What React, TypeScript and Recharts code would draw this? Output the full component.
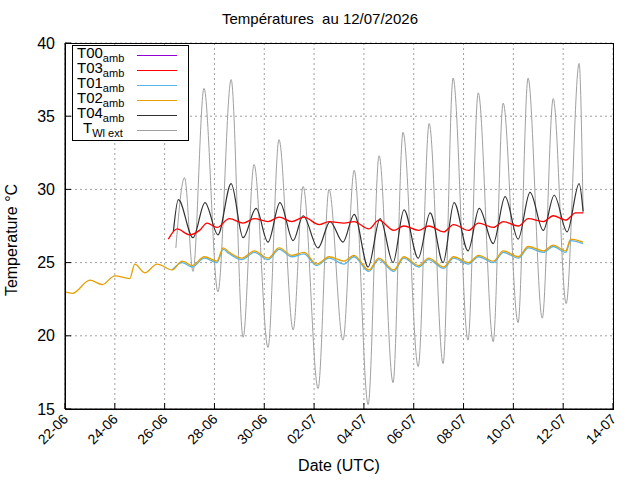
import { CartesianGrid, Line, LineChart, XAxis, YAxis } from "recharts";

// x = days since 22-06 00:00 UTC
const dayTicks = [0, 2, 4, 6, 8, 10, 12, 14, 16, 18, 20, 22];
const dayLabels = ["22-06", "24-06", "26-06", "28-06", "30-06", "02-07", "04-07", "06-07", "08-07", "10-07", "12-07", "14-07"];
const tempTicks = [15, 20, 25, 30, 35, 40];

const extT = [4.45, 4.8, 5.14, 5.58, 6.14, 6.67, 7.15, 7.59, 8.15, 8.59, 9.16, 9.56, 10.16, 10.6, 11.16, 11.61, 12.17, 12.61, 13.17, 13.57, 14.18, 14.62, 15.18, 15.58, 16.18, 16.59, 17.19, 17.59, 18.19, 18.59, 19.16, 19.6, 20.12, 20.64, 20.8];
const extV = [26.0, 30.8, 24.4, 36.9, 23.0, 37.5, 19.9, 31.7, 19.2, 33.4, 20.4, 30.2, 16.4, 30.0, 19.7, 31.3, 15.3, 32.3, 16.8, 33.9, 17.9, 34.5, 18.1, 37.6, 19.7, 36.6, 19.6, 35.9, 20.9, 37.6, 21.2, 36.2, 22.2, 38.6, 28.4];

const t04T = [4.35, 4.55, 5.14, 5.62, 6.14, 6.67, 7.15, 7.67, 8.15, 8.63, 9.16, 9.56, 10.16, 10.64, 11.16, 11.61, 12.17, 12.65, 13.17, 13.61, 14.18, 14.66, 15.18, 15.62, 16.18, 16.63, 17.19, 17.67, 18.19, 18.67, 19.2, 19.64, 20.16, 20.64, 20.8];
const t04V = [27.1, 29.3, 26.7, 29.1, 26.9, 30.4, 26.7, 28.7, 26.4, 29.1, 26.5, 28.2, 26.0, 27.8, 26.4, 28.3, 24.7, 28.0, 25.0, 28.6, 25.3, 28.4, 25.0, 29.1, 25.8, 28.7, 26.3, 29.5, 26.6, 29.8, 27.2, 29.6, 27.1, 30.4, 28.5];

const t03T = [4.15, 4.5, 5.0, 5.4, 5.7, 6.1, 6.6, 7.15, 7.6, 8.15, 8.6, 9.1, 9.6, 10.2, 10.6, 11.2, 11.6, 12.2, 12.6, 13.2, 13.6, 14.2, 14.6, 15.2, 15.6, 16.2, 16.6, 17.2, 17.6, 18.2, 18.6, 19.2, 19.6, 20.1, 20.5, 20.8];
const t03V = [26.6, 27.3, 26.9, 27.2, 27.7, 27.4, 28.0, 27.7, 28.0, 27.8, 28.1, 27.8, 28.1, 27.6, 27.8, 27.7, 27.8, 27.3, 27.9, 27.2, 27.5, 27.2, 27.5, 27.1, 27.6, 27.2, 27.7, 27.4, 27.8, 27.5, 28.0, 27.8, 28.2, 27.9, 28.4, 28.4];

const t02T = [0, 0.3, 1.0, 1.5, 2.0, 2.6, 2.8, 3.2, 3.7, 4.3, 4.7, 5.1, 5.6, 6.1, 6.35, 6.6, 7.1, 7.6, 8.15, 8.6, 9.1, 9.6, 10.1, 10.6, 11.2, 11.6, 12.2, 12.6, 13.2, 13.6, 14.2, 14.6, 15.2, 15.6, 16.2, 16.6, 17.2, 17.6, 18.2, 18.6, 19.2, 19.6, 20.1, 20.3, 20.8];
const t02V = [23.0, 22.9, 23.8, 23.5, 24.1, 23.9, 24.9, 24.3, 24.9, 24.5, 25.1, 24.8, 25.4, 25.1, 26.0, 25.7, 25.3, 25.8, 25.3, 26.0, 25.5, 25.7, 24.9, 25.4, 25.1, 25.5, 24.5, 25.3, 24.5, 25.4, 24.8, 25.3, 24.7, 25.4, 25.0, 25.5, 25.1, 25.8, 25.4, 26.1, 25.8, 26.2, 25.8, 26.6, 26.4];

const t01T = [4.3, 4.7, 5.1, 5.6, 6.1, 6.35, 6.6, 7.1, 7.6, 8.15, 8.6, 9.1, 9.6, 10.1, 10.6, 11.2, 11.6, 12.2, 12.6, 13.2, 13.6, 14.2, 14.6, 15.2, 15.6, 16.2, 16.6, 17.2, 17.6, 18.2, 18.6, 19.2, 19.6, 20.1, 20.3, 20.8];
const t01V = [24.5, 25.0, 24.7, 25.3, 25.0, 25.9, 25.6, 25.2, 25.7, 25.2, 25.9, 25.4, 25.6, 24.8, 25.3, 24.9, 25.4, 24.4, 25.2, 24.4, 25.3, 24.7, 25.2, 24.6, 25.3, 24.9, 25.4, 25.0, 25.7, 25.3, 26.0, 25.7, 26.1, 25.7, 26.5, 26.3];

const toPoints = (t: number[], v: number[]) => t.map((d, i) => ({ d, v: v[i] }));

const legend = [
  { name: "T00", sub: "amb", color: "#9400d3" },
  { name: "T03", sub: "amb", color: "#ff0000" },
  { name: "T01", sub: "amb", color: "#56b4e9" },
  { name: "T02", sub: "amb", color: "#e69f00" },
  { name: "T04", sub: "amb", color: "#303030" },
  { name: "T", sub: "Wl ext", color: "#a0a0a0" },
];

function DateTick({ x, payload }: any) {
  const i = dayTicks.indexOf(payload.value);
  const ax = x + 4;
  const ay = 420;
  return (
    <text x={ax} y={ay} textAnchor="end" transform={`rotate(-45 ${ax} ${ay})`} fontSize={14} fill="#000">
      {dayLabels[i]}
    </text>
  );
}

export default function App() {
  const font = "'Liberation Sans', Arial, sans-serif";
  return (
    <div style={{ position: "fixed", left: 0, top: 0, width: 640, height: 480, background: "#fff", fontFamily: font }}>
      <div style={{ position: "absolute", top: 10, width: 640, textAlign: "center", fontSize: 15 }}>
        Températures&nbsp;&nbsp;au 12/07/2026
      </div>
      <LineChart width={640} height={480} margin={{ top: 43, right: 27, left: 0, bottom: 0 }} style={{ fontFamily: font }}>
        <CartesianGrid stroke="#a0a0a0" strokeDasharray="2 3" />
        <XAxis
          type="number"
          dataKey="d"
          domain={[0, 22]}
          ticks={dayTicks}
          height={71}
          stroke="#000"
          tickSize={-6}
          tick={<DateTick />}
          interval={0}
          allowDataOverflow
        />
        <YAxis
          type="number"
          domain={[15, 40]}
          ticks={tempTicks}
          width={65}
          stroke="#000"
          tickSize={-6}
          tick={{ fill: "#000", fontSize: 16, dx: -14 }}
          interval={0}
          allowDataOverflow
        />
        <Line type="monotone" data={toPoints(extT, extV)} dataKey="v" stroke="#a0a0a0" strokeWidth={1} dot={false} isAnimationActive={false} />
        <Line type="monotone" data={toPoints(t04T, t04V)} dataKey="v" stroke="#303030" strokeWidth={1.2} dot={false} isAnimationActive={false} />
        <Line type="monotone" data={toPoints(t03T, t03V)} dataKey="v" stroke="#ff0000" strokeWidth={1.3} dot={false} isAnimationActive={false} />
        <Line type="monotone" data={toPoints(t01T, t01V)} dataKey="v" stroke="#56b4e9" strokeWidth={1.3} dot={false} isAnimationActive={false} />
        <Line type="monotone" data={toPoints(t02T, t02V)} dataKey="v" stroke="#e69f00" strokeWidth={1.3} dot={false} isAnimationActive={false} />
      </LineChart>
      <div style={{ position: "absolute", left: 65, top: 43, width: 547, height: 365, border: "1px solid #000", pointerEvents: "none" }} />
      <div style={{ position: "absolute", left: 0, top: 160, width: 24, height: 160 }}>
        <div style={{ position: "absolute", left: 12, top: 80, transform: "translate(-50%,-50%) rotate(-90deg)", whiteSpace: "nowrap", fontSize: 16 }}>
          Temperature °C
        </div>
      </div>
      <div style={{ position: "absolute", top: 457, left: 65, width: 548, textAlign: "center", fontSize: 16 }}>Date (UTC)</div>
      <div style={{ position: "absolute", left: 72, top: 45, width: 115, height: 94, border: "1px solid #000", background: "#fff" }}>
        {legend.map((l, i) => (
          <div key={i} style={{ position: "absolute", top: i * 15, left: l.name === "T" ? 10 : 4, fontSize: 15, lineHeight: "13px", whiteSpace: "nowrap" }}>
            {l.name}
            <span style={{ fontSize: 11, position: "relative", top: 4 }}>{l.sub}</span>
          </div>
        ))}
        {legend.map((l, i) => (
          <div key={"l" + i} style={{ position: "absolute", left: 64, top: i * 15 + 9, width: 40, height: 1, background: l.color }} />
        ))}
      </div>
    </div>
  );
}
